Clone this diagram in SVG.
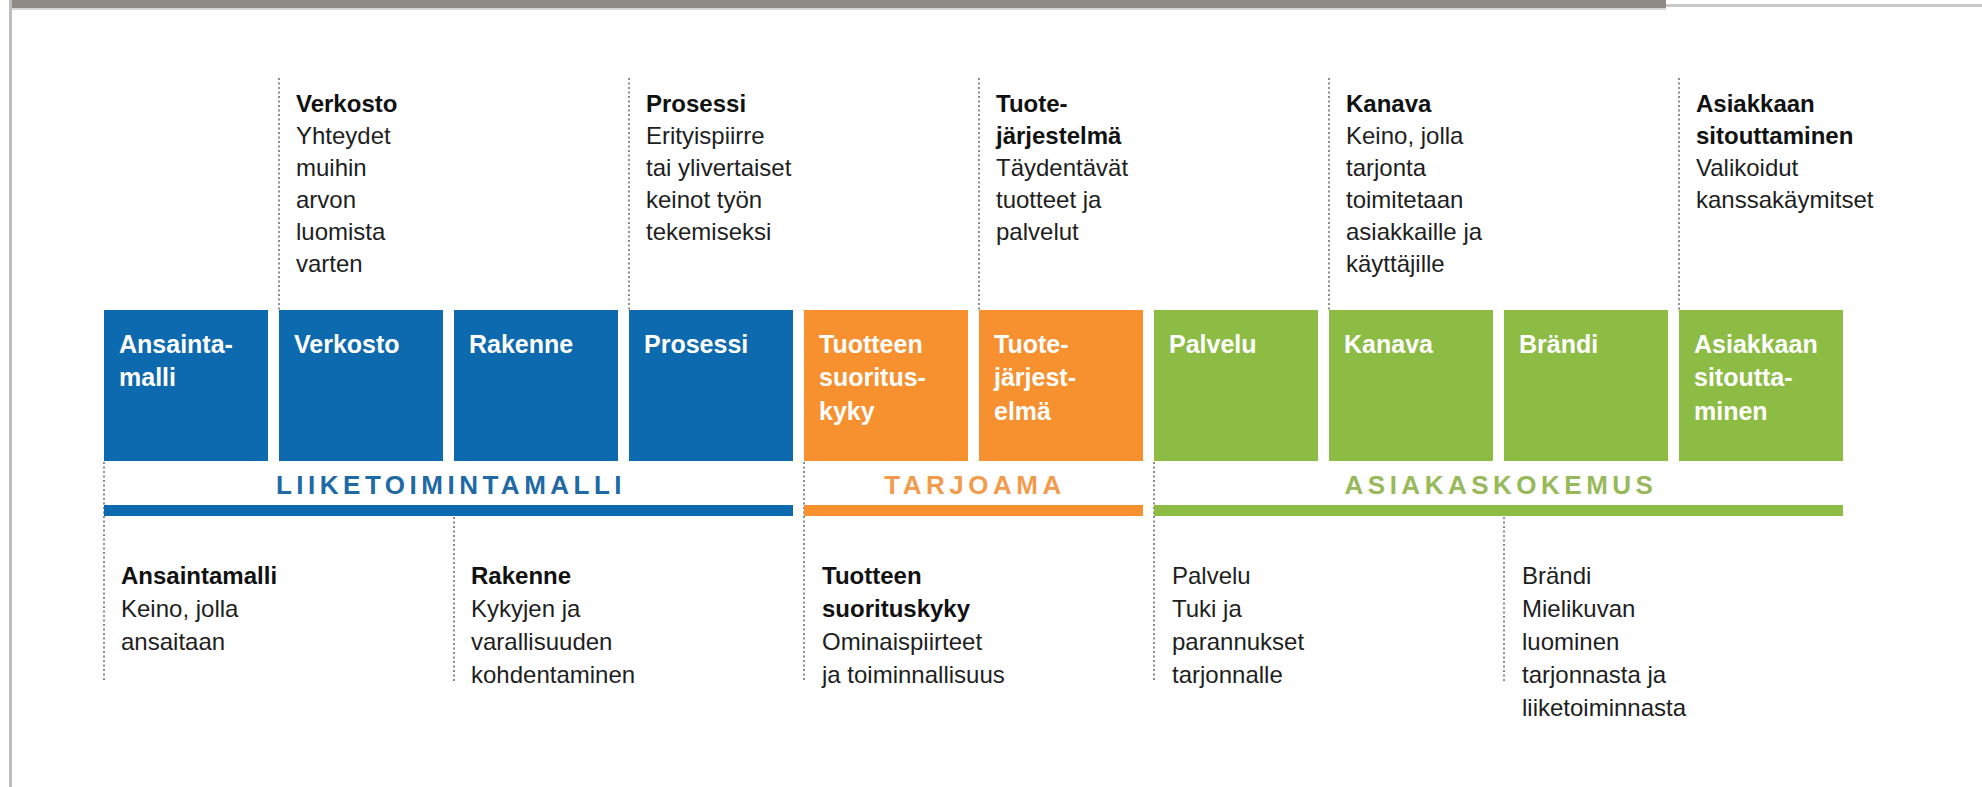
<svg xmlns="http://www.w3.org/2000/svg" width="1982" height="787" viewBox="0 0 1982 787">
<style>
text{font-family:"Liberation Sans",Arial,sans-serif}
.lbl{font-size:25px;font-weight:bold;fill:#ffffff}
.t{font-size:24px;fill:#1e1e1e}
.b{font-weight:bold;fill:#111111}
.grp{font-size:26px;font-weight:bold;letter-spacing:4.5px;text-anchor:middle}
.dot{stroke:#8c8c8c;stroke-width:2;stroke-dasharray:2 2.5;fill:none}
.blue{fill:#0d6aae}
.orange{fill:#f7902f}
.green{fill:#8dbc45}
</style>
<rect x="0" y="0" width="1982" height="787" fill="#ffffff"/>
<rect x="10" y="0" width="1656" height="8" fill="#8f8a86"/>
<rect x="10" y="8" width="1656" height="2" fill="#d8d6d4"/>
<rect x="1666" y="4" width="316" height="3" fill="#c9c9c9"/>
<rect x="9" y="0" width="3" height="787" fill="#bdbdbd"/>

<g id="connectors">
<line class="dot" x1="279" y1="78" x2="279" y2="310"/>
<line class="dot" x1="629" y1="78" x2="629" y2="310"/>
<line class="dot" x1="979" y1="78" x2="979" y2="310"/>
<line class="dot" x1="1329" y1="78" x2="1329" y2="310"/>
<line class="dot" x1="1679" y1="78" x2="1679" y2="310"/>
<line class="dot" x1="104" y1="462" x2="104" y2="682"/>
<line class="dot" x1="454" y1="517" x2="454" y2="682"/>
<line class="dot" x1="804" y1="462" x2="804" y2="682"/>
<line class="dot" x1="1154" y1="462" x2="1154" y2="682"/>
<line class="dot" x1="1504" y1="517" x2="1504" y2="682"/>
</g>

<g id="box-ansaintamalli"><rect class="blue" x="104" y="310" width="164" height="151"/><text class="lbl" x="119" y="353">Ansainta-</text><text class="lbl" x="119" y="386">malli</text></g>
<g id="box-verkosto"><rect class="blue" x="279" y="310" width="164" height="151"/><text class="lbl" x="294" y="353">Verkosto</text></g>
<g id="box-rakenne"><rect class="blue" x="454" y="310" width="164" height="151"/><text class="lbl" x="469" y="353">Rakenne</text></g>
<g id="box-prosessi"><rect class="blue" x="629" y="310" width="164" height="151"/><text class="lbl" x="644" y="353">Prosessi</text></g>
<g id="box-tuotteen-suorituskyky"><rect class="orange" x="804" y="310" width="164" height="151"/><text class="lbl" x="819" y="353">Tuotteen</text><text class="lbl" x="819" y="386">suoritus-</text><text class="lbl" x="819" y="420">kyky</text></g>
<g id="box-tuotejarjestelma"><rect class="orange" x="979" y="310" width="164" height="151"/><text class="lbl" x="994" y="353">Tuote-</text><text class="lbl" x="994" y="386">järjest-</text><text class="lbl" x="994" y="420">elmä</text></g>
<g id="box-palvelu"><rect class="green" x="1154" y="310" width="164" height="151"/><text class="lbl" x="1169" y="353">Palvelu</text></g>
<g id="box-kanava"><rect class="green" x="1329" y="310" width="164" height="151"/><text class="lbl" x="1344" y="353">Kanava</text></g>
<g id="box-brandi"><rect class="green" x="1504" y="310" width="164" height="151"/><text class="lbl" x="1519" y="353">Brändi</text></g>
<g id="box-asiakkaan-sitouttaminen"><rect class="green" x="1679" y="310" width="164" height="151"/><text class="lbl" x="1694" y="353">Asiakkaan</text><text class="lbl" x="1694" y="386">sitoutta-</text><text class="lbl" x="1694" y="420">minen</text></g>

<g id="group-liiketoimintamalli"><text class="grp" x="451" y="494" fill="#1f6aa5">LIIKETOIMINTAMALLI</text><rect class="blue" x="104" y="505" width="689" height="11"/></g>
<g id="group-tarjoama"><text class="grp" x="975" y="494" fill="#f39b4d">TARJOAMA</text><rect class="orange" x="804" y="505" width="339" height="11"/></g>
<g id="group-asiakaskokemus"><text class="grp" x="1501" y="494" fill="#97b95a">ASIAKASKOKEMUS</text><rect class="green" x="1154" y="505" width="689" height="11"/></g>

<g id="desc-verkosto" class="t"><text class="t b" x="296" y="112">Verkosto</text><text class="t" x="296" y="144">Yhteydet</text><text class="t" x="296" y="176">muihin</text><text class="t" x="296" y="208">arvon</text><text class="t" x="296" y="240">luomista</text><text class="t" x="296" y="272">varten</text></g>
<g id="desc-prosessi"><text class="t b" x="646" y="112">Prosessi</text><text class="t" x="646" y="144">Erityispiirre</text><text class="t" x="646" y="176">tai ylivertaiset</text><text class="t" x="646" y="208">keinot työn</text><text class="t" x="646" y="240">tekemiseksi</text></g>
<g id="desc-tuotejarjestelma"><text class="t b" x="996" y="112">Tuote-</text><text class="t b" x="996" y="144">järjestelmä</text><text class="t" x="996" y="176">Täydentävät</text><text class="t" x="996" y="208">tuotteet ja</text><text class="t" x="996" y="240">palvelut</text></g>
<g id="desc-kanava"><text class="t b" x="1346" y="112">Kanava</text><text class="t" x="1346" y="144">Keino, jolla</text><text class="t" x="1346" y="176">tarjonta</text><text class="t" x="1346" y="208">toimitetaan</text><text class="t" x="1346" y="240">asiakkaille ja</text><text class="t" x="1346" y="272">käyttäjille</text></g>
<g id="desc-asiakkaan-sitouttaminen"><text class="t b" x="1696" y="112">Asiakkaan</text><text class="t b" x="1696" y="144">sitouttaminen</text><text class="t" x="1696" y="176">Valikoidut</text><text class="t" x="1696" y="208">kanssakäymitset</text></g>

<g id="desc-ansaintamalli"><text class="t b" x="121" y="584">Ansaintamalli</text><text class="t" x="121" y="617">Keino, jolla</text><text class="t" x="121" y="650">ansaitaan</text></g>
<g id="desc-rakenne"><text class="t b" x="471" y="584">Rakenne</text><text class="t" x="471" y="617">Kykyjen ja</text><text class="t" x="471" y="650">varallisuuden</text><text class="t" x="471" y="683">kohdentaminen</text></g>
<g id="desc-tuotteen-suorituskyky"><text class="t b" x="822" y="584">Tuotteen</text><text class="t b" x="822" y="617">suorituskyky</text><text class="t" x="822" y="650">Ominaispiirteet</text><text class="t" x="822" y="683">ja toiminnallisuus</text></g>
<g id="desc-palvelu"><text class="t" x="1172" y="584">Palvelu</text><text class="t" x="1172" y="617">Tuki ja</text><text class="t" x="1172" y="650">parannukset</text><text class="t" x="1172" y="683">tarjonnalle</text></g>
<g id="desc-brandi"><text class="t" x="1522" y="584">Brändi</text><text class="t" x="1522" y="617">Mielikuvan</text><text class="t" x="1522" y="650">luominen</text><text class="t" x="1522" y="683">tarjonnasta ja</text><text class="t" x="1522" y="716">liiketoiminnasta</text></g>
</svg>
